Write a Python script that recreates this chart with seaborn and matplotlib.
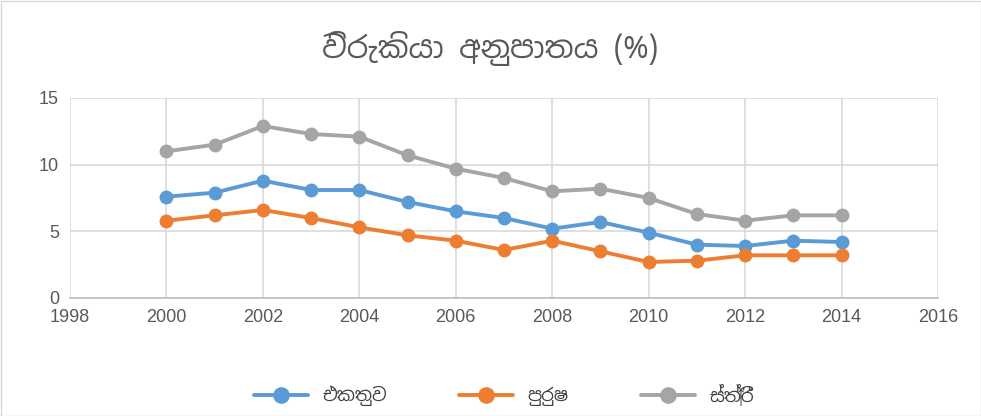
import matplotlib
matplotlib.use("Agg")
import matplotlib.pyplot as plt
import seaborn as sns
import pandas as pd

years = list(range(2000, 2015))
total = [7.6, 7.9, 8.8, 8.1, 8.1, 7.2, 6.5, 6.0, 5.2, 5.7, 4.9, 4.0, 3.9, 4.3, 4.2]
male = [5.8, 6.2, 6.6, 6.0, 5.3, 4.7, 4.3, 3.6, 4.3, 3.5, 2.7, 2.8, 3.2, 3.2, 3.2]
female = [11.0, 11.5, 12.9, 12.3, 12.1, 10.7, 9.7, 9.0, 8.0, 8.2, 7.5, 6.3, 5.8, 6.2, 6.2]
series_names = ["එකතුව", "පුරුෂ", "ස්ත්‍රී"]
title = "විරැකියා අනුපාතය (%)"
colors = ["#5B9BD5", "#ED7D31", "#A5A5A5"]

df = pd.DataFrame({"year": years * 3,
                   "value": total + male + female,
                   "series": [series_names[0]] * len(years) + [series_names[1]] * len(years) + [series_names[2]] * len(years)})

sns.set_style("white")
plt.rcParams['font.family'] = ['Liberation Sans', 'Noto Sans Sinhala', 'DejaVu Sans']

fig = plt.figure(figsize=(9.81, 4.16), dpi=100)
ax = fig.add_axes([70/981, 1-298/416, (938-70)/981, 200/416])
sns.lineplot(data=df, x="year", y="value", hue="series", palette=colors, marker="o",
             markersize=10, markeredgewidth=0, linewidth=2.8, ax=ax, legend=True)
ax.set_xlim(1998, 2016)
ax.set_ylim(0, 15)
ax.set_xticks(range(1998, 2017, 2))
ax.set_yticks([0, 5, 10, 15])
ax.grid(True, color="#D9D9D9", linewidth=1.2)
for s in ["top", "right", "left"]:
    ax.spines[s].set_visible(False)
ax.spines["bottom"].set_color("#BFBFBF")
ax.spines["bottom"].set_linewidth(1.2)
ax.tick_params(axis="both", labelsize=13, colors="#595959", length=0, pad=8)
ax.set_xlabel("")
ax.set_ylabel("")
fig.text(0.5, 1-48/416, title, ha="center", va="center", fontsize=22, color="#595959",
         family=['Noto Sans Sinhala', 'Liberation Sans', 'DejaVu Sans'])
leg = ax.legend(loc="center", bbox_to_anchor=(0.5, (298-395)/200), ncol=3, frameon=False,
                labelcolor="#404040", columnspacing=4, handlelength=3, markerscale=1.2,
                prop={'family': ['Noto Sans Sinhala', 'DejaVu Sans'], 'size': 13})
fig.patches.append(matplotlib.patches.Rectangle((0.5/981, 0.5/416), 1-1/981, 1-1/416, transform=fig.transFigure,
                                                fill=False, edgecolor="#D9D9D9", linewidth=1))
fig.savefig("out.png", dpi=100)
